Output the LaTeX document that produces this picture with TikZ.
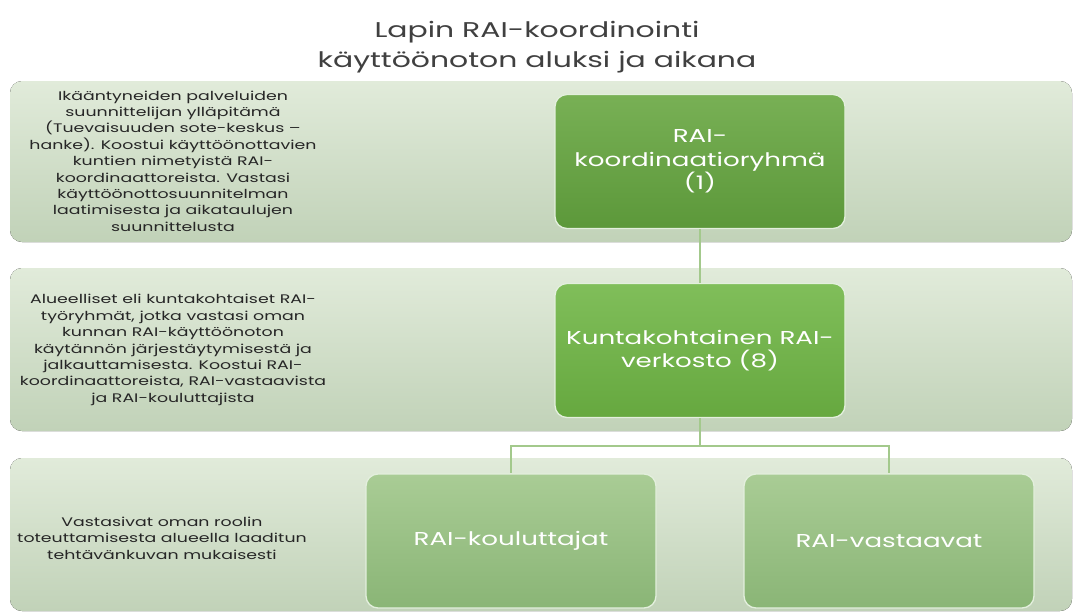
\documentclass[tikz,border=0pt]{standalone}
\usepackage{fontspec}
\setmainfont{Poppins}[FakeStretch=1.4]
\definecolor{bandtop}{HTML}{E1EBDA}
\definecolor{bandbot}{HTML}{C1D2B8}
\definecolor{darktop}{HTML}{78B055}
\definecolor{darkbot}{HTML}{5C983A}
\definecolor{midtop}{HTML}{80BE5A}
\definecolor{midbot}{HTML}{66A83F}
\definecolor{lighttop}{HTML}{A9CC95}
\definecolor{lightbot}{HTML}{8AB576}
\definecolor{linkgreen}{HTML}{A3C98C}

\begin{document}
\begin{tikzpicture}[x=0.75pt,y=-0.75pt]
\tikzstyle{band}=[rounded corners=9pt,top color=bandtop,bottom color=bandbot]
\tikzstyle{box}=[rounded corners=9pt,draw=white!70!linkgreen,line width=1pt,
  minimum width=217.5pt,minimum height=100.5pt,text=white,align=center,
  font=\fontsize{14}{17.6}\selectfont]
\tikzstyle{note}=[align=center,text=black!85,font=\fontsize{9.3}{12.3}\selectfont]
\tikzstyle{link}=[draw=linkgreen,line width=1.5pt]
\useasboundingbox (0,0) rectangle (1073,611);
\fill[white] (0,0) rectangle (1073,611);
% title
\node (title) at (537,47) [align=center,text=black!75,font=\fontsize{16}{22.5}\selectfont]
  {Lapin RAI-koordinointi\\käyttöönoton aluksi ja aikana};
% bands
\fill[band] (10,81) rectangle (1072,242);
\fill[band] (10,268) rectangle (1072,431);
\fill[band] (10,458) rectangle (1072,611);
% notes
\node (note1) at (173,161) [note] {Ikääntyneiden palveluiden\\suunnittelijan ylläpitämä\\(Tuevaisuuden sote-keskus --\\hanke). Koostui käyttöönottavien\\kuntien nimetyistä RAI-\\koordinaattoreista. Vastasi\\käyttöönottosuunnitelman\\laatimisesta ja aikataulujen\\suunnittelusta};
\node (note2) at (173,350) [note] {Alueelliset eli kuntakohtaiset RAI-\\työryhmät, jotka vastasi oman\\kunnan RAI-käyttöönoton\\käytännön järjestäytymisestä ja\\jalkauttamisesta. Koostui RAI-\\koordinaattoreista, RAI-vastaavista\\ja RAI-kouluttajista};
\node (note3) at (162,538) [note] {Vastasivat oman roolin\\toteuttamisesta alueella laaditun\\tehtävänkuvan mukaisesti};
% boxes
\node (koord) at (700,161.5) [box,top color=darktop,bottom color=darkbot] {RAI-\\koordinaatioryhmä\\(1)};
\node (verkosto) at (700,350.5) [box,top color=midtop,bottom color=midbot] {Kuntakohtainen RAI-\\verkosto (8)};
\node (kouluttajat) at (511,541) [box,top color=lighttop,bottom color=lightbot] {RAI-kouluttajat};
\node (vastaavat) at (889,541) [box,top color=lighttop,bottom color=lightbot] {RAI-vastaavat};
% links
\coordinate (fork) at (700,446);
\draw[link] (koord) -- (verkosto);
\draw[link] (verkosto) -- (fork);
\draw[link] (fork) -| (kouluttajat);
\draw[link] (fork) -| (vastaavat);
\end{tikzpicture}
\end{document}
